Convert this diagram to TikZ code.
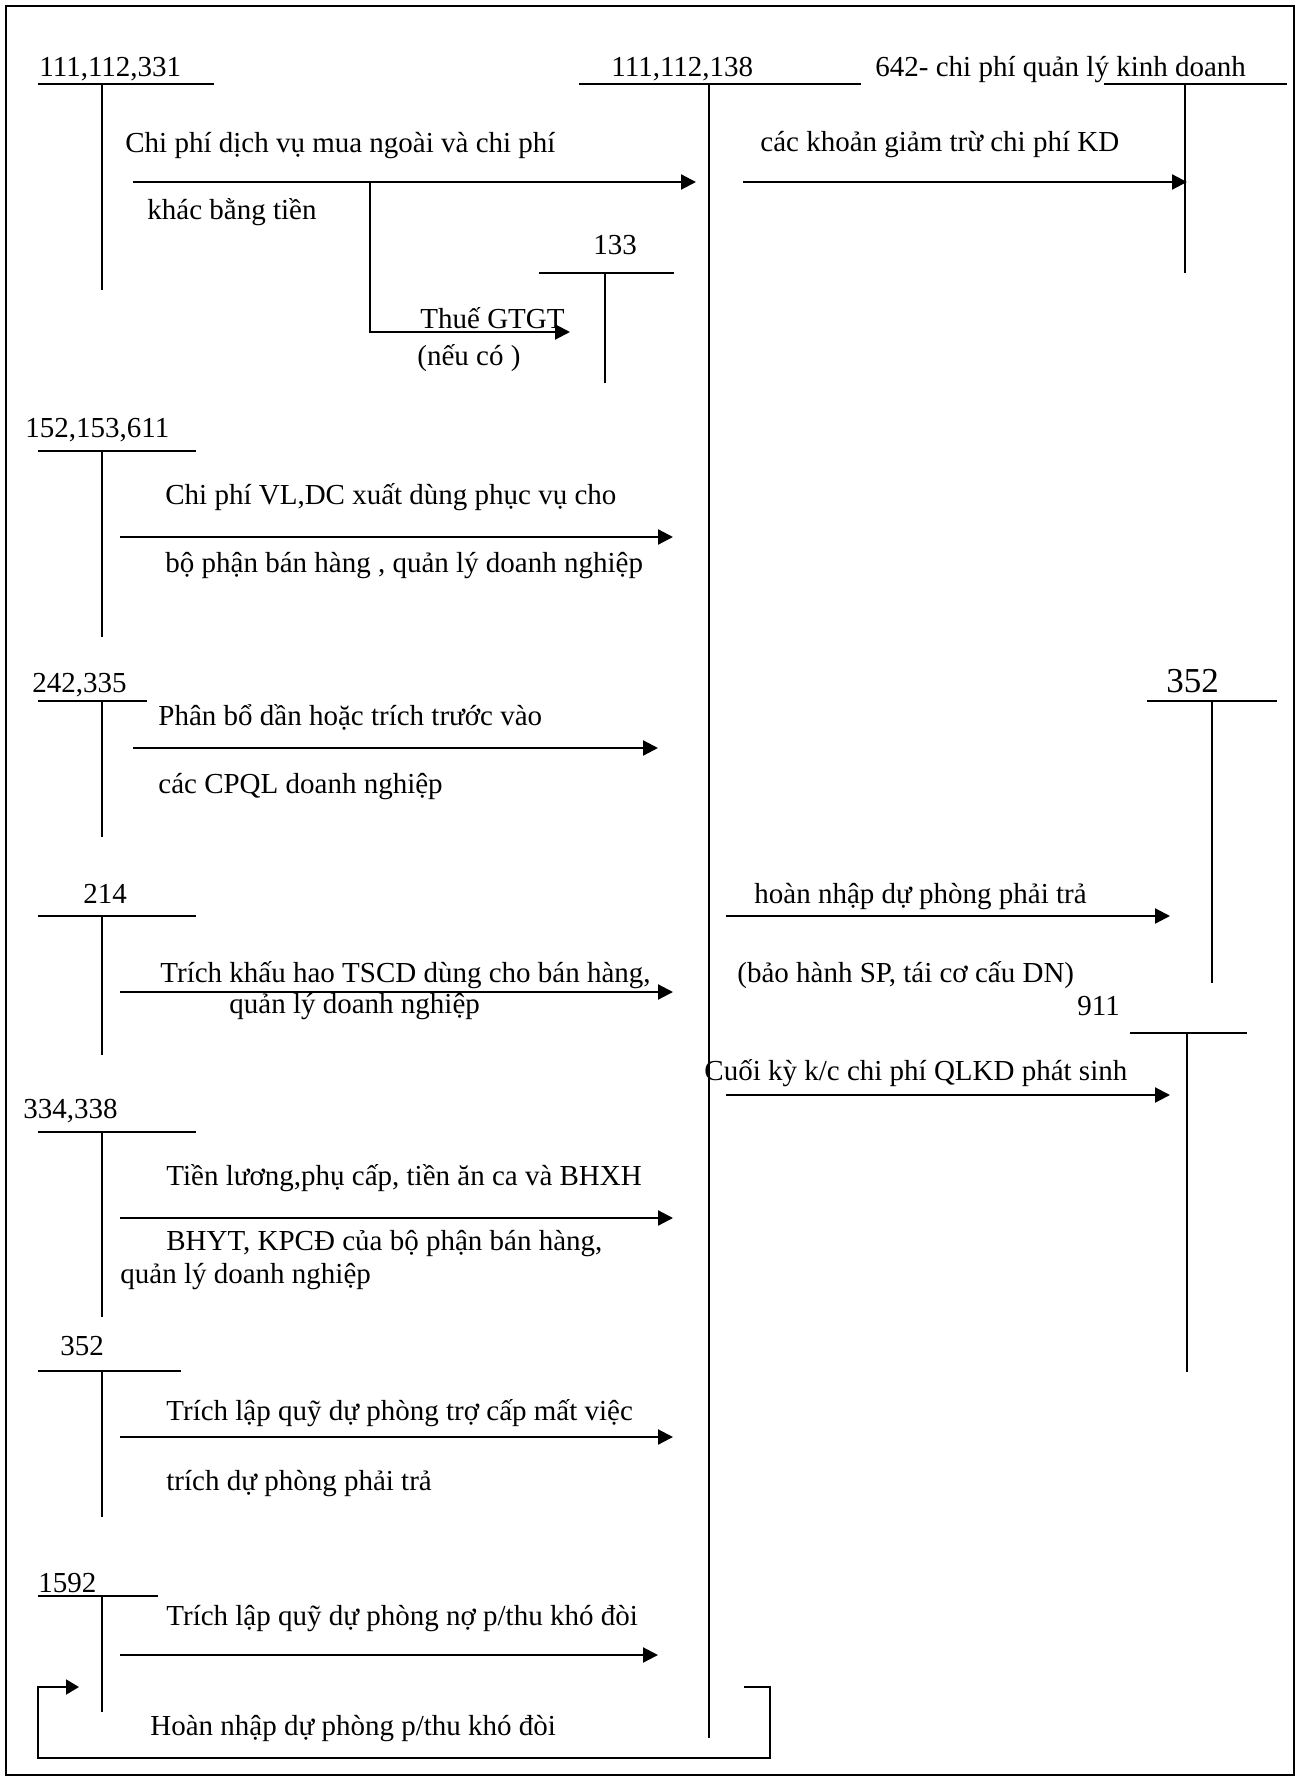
\documentclass[tikz,border=0pt]{standalone}
\usepackage{fontspec}
\setmainfont{Liberation Serif}
\usetikzlibrary{arrows.meta}
\begin{document}
\begin{tikzpicture}[x=0.5pt,y=-0.5pt,
  lbl/.style={anchor=base west,inner sep=0pt,font=\fontsize{14.5pt}{17pt}\selectfont},
  biglbl/.style={anchor=base west,inner sep=0pt,font=\fontsize{17.5pt}{20pt}\selectfont},
  tline/.style={line width=0.7pt},
  mainline/.style={line width=1pt},
  arr/.style={line width=1.1pt,-{Triangle[length=7.5pt,width=7.5pt]}},
  ]
\useasboundingbox (0,0) rectangle (1300,1780);
\draw[line width=1pt] (6,6) rectangle (1294,1775);

% ---- account labels ----
\node[lbl] (t1) at (39,77) {111,112,331};
\node[lbl] (t2) at (611,77) {111,112,138};
\node[lbl] (t3) at (875,77) {642- chi phí quản lý kinh doanh};
\node[lbl] (t133) at (593,255) {133};
\node[lbl] (t4) at (25,438) {152,153,611};
\node[lbl] (t5) at (32,692) {242,335};
\node[biglbl] (t352r) at (1166,692) {352};
\node[lbl] (t6) at (83,903) {214};
\node[lbl] (t911) at (1077,1015) {911};
\node[lbl] (t7) at (23,1118) {334,338};
\node[lbl] (t8) at (60,1355) {352};
\node[lbl] (t9) at (38,1592) {1592};

% ---- T accounts ----
\draw[tline] (38,84) -- (214,84);   \draw[tline] (102,84) -- (102,290);
\draw[tline] (579,84) -- (861,84);  \draw[mainline] (709,84) -- (709,1738);
\draw[tline] (1104,84) -- (1287,84); \draw[tline] (1185,84) -- (1185,273);
\draw[tline] (539,273) -- (674,273); \draw[tline] (605,273) -- (605,383);
\draw[tline] (38,451) -- (196,451); \draw[tline] (102,451) -- (102,637);
\draw[tline] (38,701) -- (147,701); \draw[tline] (102,701) -- (102,837);
\draw[tline] (1147,701) -- (1277,701); \draw[tline] (1212,701) -- (1212,983);
\draw[tline] (38,916) -- (196,916); \draw[tline] (102,916) -- (102,1055);
\draw[tline] (1130,1033) -- (1247,1033); \draw[tline] (1187,1033) -- (1187,1372);
\draw[tline] (38,1132) -- (196,1132); \draw[tline] (102,1132) -- (102,1317);
\draw[tline] (38,1371) -- (181,1371); \draw[tline] (102,1371) -- (102,1517);
\draw[tline] (38,1596) -- (158,1596); \draw[tline] (102,1596) -- (102,1712);

% ---- arrow end points ----
\coordinate (a1s) at (133,182);  \coordinate (a1e) at (696,182);
\coordinate (b1s) at (370,182);  \coordinate (b1m) at (370,332); \coordinate (b1e) at (570,332);
\coordinate (a2s) at (743,182);  \coordinate (a2e) at (1187,182);
\coordinate (a3s) at (120,537);  \coordinate (a3e) at (673,537);
\coordinate (a4s) at (133,748);  \coordinate (a4e) at (658,748);
\coordinate (a5s) at (726,916);  \coordinate (a5e) at (1170,916);
\coordinate (a6s) at (120,992);  \coordinate (a6e) at (673,992);
\coordinate (a7s) at (726,1095); \coordinate (a7e) at (1170,1095);
\coordinate (a8s) at (120,1218); \coordinate (a8e) at (673,1218);
\coordinate (a9s) at (120,1437); \coordinate (a9e) at (673,1437);
\coordinate (a10s) at (120,1655); \coordinate (a10e) at (658,1655);
\coordinate (l0) at (744,1687); \coordinate (l1) at (770,1687); \coordinate (l2) at (770,1758);
\coordinate (l3) at (38,1758); \coordinate (l4) at (38,1687); \coordinate (l5) at (79,1687);

% ---- arrows ----
\draw[arr] (a1s) -- (a1e);
\draw[arr] (b1s) -- (b1m) -- (b1e);
\draw[arr] (a2s) -- (a2e);
\draw[arr] (a3s) -- (a3e);
\draw[arr] (a4s) -- (a4e);
\draw[arr] (a5s) -- (a5e);
\draw[arr] (a6s) -- (a6e);
\draw[arr] (a7s) -- (a7e);
\draw[arr] (a8s) -- (a8e);
\draw[arr] (a9s) -- (a9e);
\draw[arr] (a10s) -- (a10e);
\draw[line width=1pt,-{Triangle[length=6.5pt,width=7.5pt]}] (l0) -- (l1) -- (l2) -- (l3) -- (l4) -- (l5);

% ---- arrow labels ----
\node[lbl] (x1) at (125,153) {Chi phí dịch vụ mua ngoài và chi phí};
\node[lbl] (x2) at (147,220) {khác bằng tiền};
\node[lbl] (x3) at (760,152) {các khoản giảm trừ chi phí KD};
\node[lbl] (x4) at (420,329) {Thuế GTGT};
\node[lbl] (x5) at (417,366) {(nếu có )};
\node[lbl] (x6) at (165,505) {Chi phí VL,DC xuất dùng phục vụ cho};
\node[lbl] (x7) at (165,573) {bộ phận bán hàng , quản lý doanh nghiệp};
\node[lbl] (x8) at (158,725) {Phân bổ dần hoặc trích trước vào};
\node[lbl] (x9) at (158,793) {các CPQL doanh nghiệp};
\node[lbl] (x10) at (754,903) {hoàn nhập dự phòng phải trả};
\node[lbl] (x11) at (160,982) {Trích khấu hao TSCD dùng cho bán hàng,};
\node[lbl] (x12) at (229,1013) {quản lý doanh nghiệp};
\node[lbl] (x13) at (737,982) {(bảo hành SP, tái cơ cấu DN)};
\node[lbl] (x14) at (704,1080) {Cuối kỳ k/c chi phí QLKD phát sinh};
\node[lbl] (x15) at (166,1185) {Tiền lương,phụ cấp, tiền ăn ca và BHXH};
\node[lbl] (x16) at (166,1250) {BHYT, KPCĐ của bộ phận bán hàng,};
\node[lbl] (x17) at (120,1283) {quản lý doanh nghiệp};
\node[lbl] (x18) at (166,1420) {Trích lập quỹ dự phòng trợ cấp mất việc};
\node[lbl] (x19) at (166,1490) {trích dự phòng phải trả};
\node[lbl] (x20) at (166,1625) {Trích lập quỹ dự phòng nợ p/thu khó đòi};
\node[lbl] (x21) at (150,1735) {Hoàn nhập dự phòng p/thu khó đòi};
\end{tikzpicture}
\end{document}
